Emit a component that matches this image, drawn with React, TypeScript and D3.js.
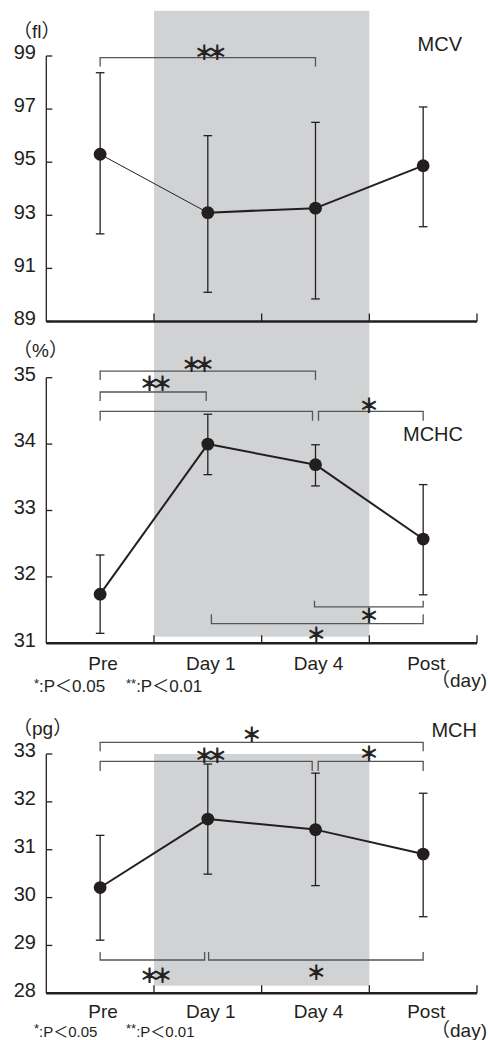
import * as d3 from 'd3'

const categories = ['Pre', 'Day 1', 'Day 4', 'Post']

// MCV (fl)
const mcvMean = [95.3, 93.1, 93.27, 94.87]
const mcvUpper = [98.37, 96.0, 96.5, 97.08]
const mcvLower = [92.3, 90.1, 89.85, 92.57]
const mcvTicks = [89, 91, 93, 95, 97, 99]

// MCHC (%)
const mchcMean = [31.74, 34.0, 33.69, 32.57]
const mchcUpper = [32.33, 34.45, 33.99, 33.39]
const mchcLower = [31.15, 33.54, 33.37, 31.73]
const mchcTicks = [31, 32, 33, 34, 35]

// MCH (pg)
const mchMean = [30.21, 31.64, 31.42, 30.91]
const mchUpper = [31.3, 32.79, 32.6, 32.18]
const mchLower = [29.11, 30.49, 30.25, 29.6]
const mchTicks = [28, 29, 30, 31, 32, 33]

const FONT = '"Liberation Sans", Arial, "Noto Sans CJK JP", sans-serif'
const STAR_FONT = '"Noto Sans CJK JP", "DejaVu Sans", sans-serif'
const INK = '#231f20'
const BRACKET = '#555'
const SHADE = '#d1d2d4'

const x = d3.scaleBand().domain(categories).range([46.3, 477]).padding(0)
const cx = (i: number) => (x(categories[i]) as number) + x.bandwidth() / 2
const at = (t: number) => (x(categories[0]) as number) + x.bandwidth() * (t + 0.5)

type Bracket = {
  a: number; b: number; level: number; dir: 'down' | 'up'; tick: number
  label: string; labelAt?: number; dy: number; trimA?: number; trimB?: number
}

const panels = [
  {
    name: 'MCV', unit: '（fl）', mean: mcvMean, upper: mcvUpper, lower: mcvLower, ticks: mcvTicks,
    y: d3.scaleLinear().domain([89, 99]).range([321.5, 56]),
    unitY: 38, nameX: 462, nameY: 51, xLabels: false, thinFirst: true, labelDy: 27, noteSize: 17,
    brackets: [
      { a: 0, b: 2, level: 98.94, dir: 'down', tick: 9, label: '**', labelAt: 1.0, dy: -6 },
    ] as Bracket[],
  },
  {
    name: 'MCHC', unit: '（%）', mean: mchcMean, upper: mchcUpper, lower: mchcLower, ticks: mchcTicks,
    y: d3.scaleLinear().domain([31, 35]).range([643.3, 377.7]),
    unitY: 357, nameX: 463, nameY: 441, xLabels: true, thinFirst: false, labelDy: 27, noteSize: 17,
    brackets: [
      { a: 0, b: 2, level: 35.1, dir: 'down', tick: 9, label: '**', labelAt: 0.88, dy: -8 },
      { a: 0, b: 1, level: 34.785, dir: 'down', tick: 9, label: '**', labelAt: 0.49, dy: -9, trimB: 1.6 },
      { a: 0, b: 2, level: 34.494, dir: 'down', tick: 9.4, label: '', dy: 0, trimB: 3 },
      { a: 2, b: 3, level: 34.494, dir: 'down', tick: 9.4, label: '*', labelAt: 2.47, dy: -7, trimA: 3 },
      { a: 2, b: 3, level: 31.55, dir: 'up', tick: 6, label: '*', labelAt: 2.47, dy: 8, trimA: -1 },
      { a: 1, b: 3, level: 31.295, dir: 'up', tick: 9.5, label: '*', labelAt: 1.98, dy: 10, trimA: 3.6 },
    ] as Bracket[],
  },
  {
    name: 'MCH', unit: '（pg）', mean: mchMean, upper: mchUpper, lower: mchLower, ticks: mchTicks,
    y: d3.scaleLinear().domain([28, 33]).range([993.3, 754]),
    unitY: 735, nameX: 477, nameY: 737, xLabels: true, thinFirst: false, labelDy: 25, noteSize: 15,
    brackets: [
      { a: 0, b: 3, level: 33.244, dir: 'down', tick: 9, label: '*', labelAt: 1.38, dy: -9 },
      { a: 0, b: 2, level: 32.847, dir: 'down', tick: 9.7, label: '**', labelAt: 1.0, dy: -7, trimB: 3.3 },
      { a: 2, b: 3, level: 32.847, dir: 'down', tick: 9.7, label: '*', labelAt: 2.47, dy: -9, trimA: 2.7 },
      { a: 0, b: 1, level: 28.696, dir: 'up', tick: 8, label: '**', labelAt: 0.49, dy: 15, trimB: 3.2 },
      { a: 1, b: 3, level: 28.696, dir: 'up', tick: 8, label: '*', labelAt: 1.98, dy: 12, trimA: 0.8 },
    ] as Bracket[],
  },
]

function Panel({ p }: { p: (typeof panels)[number] }) {
  const y = p.y
  const [y0, y1] = y.range()
  const x0 = x.range()[0]
  const x1 = x.range()[1]
  const pts = p.mean.map((m, i) => [cx(i), y(m)] as [number, number])
  const bounds = categories.map((_, i) => x(categories[i]) as number).concat([x1]).slice(1)
  // footnote kept inside the picture
  const noteY = Math.min(y0 + 49, 1037)
  return (
    <g>
      {/* y axis */}
      <line x1={x0} x2={x0} y1={y0} y2={y1} stroke={INK} strokeWidth={1.3} />
      {p.ticks.map((t) => (
        <g key={t}>
          <line x1={x0} x2={x0 + 6} y1={y(t)} y2={y(t)} stroke={INK} strokeWidth={1.3} />
          <text x={36} y={y(t) - 2} textAnchor="end" dominantBaseline="middle" fontSize={20} fill={INK}>
            {t}
          </text>
        </g>
      ))}
      {/* x axis */}
      <line x1={x0} x2={x1} y1={y0} y2={y0} stroke={INK} strokeWidth={2.6} />
      {bounds.map((b, i) => (
        <line key={i} x1={b} x2={b} y1={y0} y2={y0 - 8} stroke={INK} strokeWidth={1.3} />
      ))}
      {/* unit and name */}
      <text x={13} y={p.unitY} fontSize={19} fill={INK}>{p.unit}</text>
      <text x={p.nameX} y={p.nameY} textAnchor="end" fontSize={20} fill={INK}>{p.name}</text>
      {/* significance brackets */}
      {p.brackets.map((br, i) => {
        const xa = cx(br.a) + (br.trimA ?? 0)
        const xb = cx(br.b) - (br.trimB ?? 0)
        const yl = y(br.level)
        const yt = br.dir === 'down' ? yl + br.tick : yl - br.tick
        return (
          <g key={i}>
            <path d={`M${xa},${yt}V${yl}H${xb}V${yt}`} fill="none" stroke={BRACKET} strokeWidth={1.3} />
            {br.label && (
              <text x={at(br.labelAt ?? (br.a + br.b) / 2)} y={yl + br.dy} textAnchor="middle"
                dominantBaseline="central" fontSize={19} fontFamily={STAR_FONT} fill={INK}
                stroke={INK} strokeWidth={0.9} letterSpacing={-6}>
                {br.label.replace(/\*/g, '＊')}
              </text>
            )}
          </g>
        )
      })}
      {/* error bars */}
      {p.mean.map((_, i) => (
        <g key={i} stroke={INK} strokeWidth={1.3}>
          <line x1={cx(i)} x2={cx(i)} y1={y(p.upper[i])} y2={y(p.lower[i])} />
          <line x1={cx(i) - 4.3} x2={cx(i) + 4.3} y1={y(p.upper[i])} y2={y(p.upper[i])} />
          <line x1={cx(i) - 4.3} x2={cx(i) + 4.3} y1={y(p.lower[i])} y2={y(p.lower[i])} />
        </g>
      ))}
      {/* mean line */}
      {pts.slice(1).map((pt, i) => (
        <path key={i} d={d3.line()([pts[i], pt]) as string} fill="none" stroke={INK}
          strokeWidth={p.thinFirst && i === 0 ? 1 : 2} />
      ))}
      {pts.map((pt, i) => (
        <circle key={i} cx={pt[0]} cy={pt[1]} r={6.4} fill={INK} />
      ))}
      {p.xLabels && (
        <g>
          {categories.map((c, i) => (
            <text key={c} x={cx(i) + 3} y={y0 + p.labelDy} textAnchor="middle" fontSize={19} fill={INK}>{c}</text>
          ))}
          <text x={487} y={y0 + 44} textAnchor="end" fontSize={19} fill={INK}>（day)</text>
          <text x={34} y={noteY} fontSize={p.noteSize} fill={INK}>
            <tspan fontSize={13} dy={-4}>*</tspan><tspan dy={4}>:P＜0.05</tspan>
          </text>
          <text x={126} y={noteY} fontSize={p.noteSize} fill={INK}>
            <tspan fontSize={13} dy={-4}>**</tspan><tspan dy={4}>:P＜0.01</tspan>
          </text>
        </g>
      )}
    </g>
  )
}

export default function App() {
  const [mcv, mchc, mch] = panels
  const sx0 = x(categories[1]) as number
  const sx1 = (x(categories[2]) as number) + x.bandwidth()
  return (
    <svg width={488} height={1040} style={{ position: 'absolute', left: 0, top: 0, background: '#fff' }}
      fontFamily={FONT}>
      <rect x={sx0} width={sx1 - sx0} y={mcv.y(100.7)} height={mchc.y(31.1) - mcv.y(100.7)} fill={SHADE} />
      <rect x={sx0} width={sx1 - sx0} y={mch.y(33)} height={mch.y(28.16) - mch.y(33)} fill={SHADE} />
      {panels.map((p) => <Panel key={p.name} p={p} />)}
    </svg>
  )
}
